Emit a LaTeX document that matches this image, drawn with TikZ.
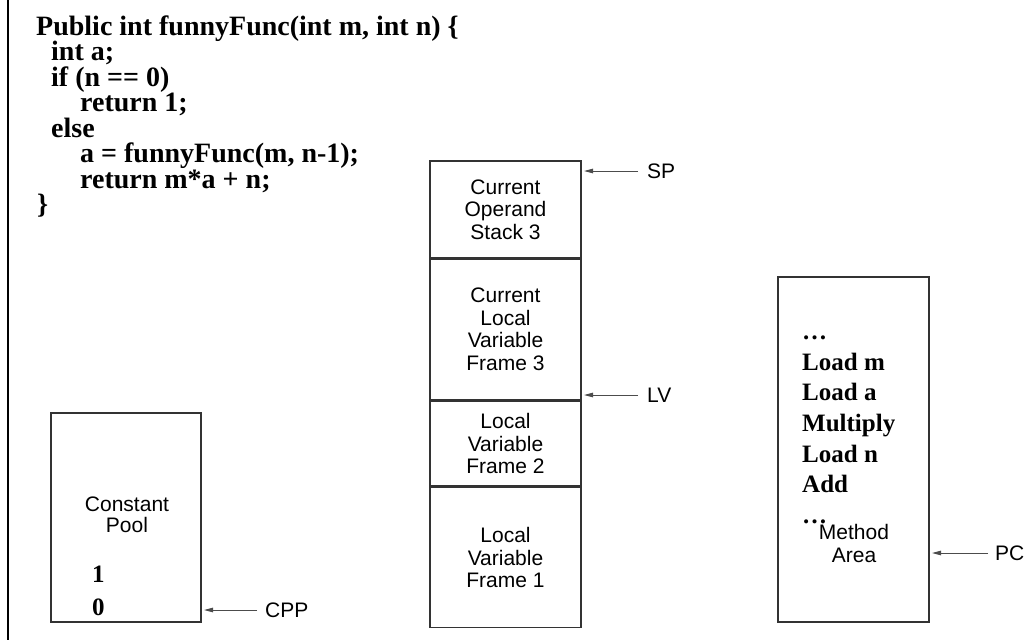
\documentclass[tikz,border=0pt]{standalone}
\usepackage{fontspec}
\setmainfont{Liberation Serif}
\setsansfont{Liberation Sans}
\usetikzlibrary{arrows.meta}
\begin{document}
\begin{tikzpicture}[x=1pt,y=-1pt,
  code/.style={anchor=base west,inner sep=0pt,font=\fontsize{28}{25.5}\selectfont\bfseries},
  instr/.style={anchor=base west,inner sep=0pt,font=\fontsize{25}{30}\selectfont\bfseries},
  memblock/.style={draw=black!80,line width=1.5pt,inner sep=0pt,align=center,
     font=\fontsize{21}{22.5}\selectfont\sffamily,minimum width=151pt},
  lbl/.style={anchor=west,inner sep=0pt,font=\fontsize{21}{22.5}\selectfont\sffamily},
  ptr/.style={draw=black!70,line width=1pt,-{Triangle[length=9pt,width=4.5pt]}}]
\useasboundingbox (0,0) rectangle (1026,640);
\draw[line width=1.5pt] (8,0) -- (8,640);
% code
\node[code] (c1) at (36,35) {Public int funnyFunc(int m, int n) \{};
\node[code] (c2) at (51,60.5) {int a;};
\node[code] (c3) at (51,86) {if (n == 0)};
\node[code] (c4) at (80,111.5) {return 1;};
\node[code] (c5) at (51,137) {else};
\node[code] (c6) at (80,162.5) {a = funnyFunc(m, n-1);};
\node[code] (c7) at (80,188) {return m*a + n;};
\node[code] (c8) at (37,213.5) {\}};
% constant pool
\node[memblock,minimum width=150pt,minimum height=209pt] (cp) at (126,517.5) {};
\node[align=center,inner sep=0pt,font=\fontsize{21}{21.5}\selectfont\sffamily] (cpt) at (127,515) {Constant\\Pool};
\node[instr] (k1) at (92,582) {1};
\node[instr] (k0) at (92,615) {0};
% stack
\node[memblock,minimum height=97pt] (os3) at (505.5,209.5) {Current\\Operand\\Stack 3};
\node[memblock,minimum height=140pt,anchor=north] (lv3) at (os3.south) {Current\\Local\\Variable\\Frame 3};
\node[memblock,minimum height=85pt,anchor=north] (lv2) at (lv3.south) {Local\\Variable\\Frame 2};
\node[memblock,minimum height=140pt,anchor=north] (lv1) at (lv2.south) {Local\\Variable\\Frame 1};
% method area
\node[memblock,minimum height=345pt] (ma) at (853.5,449.5) {};
\node[instr] (m0) at (802,339.6) {\dots};
\node[instr] (m1) at (802,370.2) {Load m};
\node[instr] (m2) at (802,400.8) {Load a};
\node[instr] (m3) at (802,431.4) {Multiply};
\node[instr] (m4) at (802,462) {Load n};
\node[instr] (m5) at (802,492.6) {Add};
\node[instr] (m6) at (802,523.2) {\dots};
\node[align=center,inner sep=0pt,font=\fontsize{21}{23}\selectfont\sffamily] (mat) at (854,543) {Method\\Area};
% pointers
\node[lbl] (sp) at (647,171) {SP};
\node[lbl] (lv) at (647,395) {LV};
\node[lbl] (pc) at (995,553) {PC};
\node[lbl] (cpp) at (265,610) {CPP};
\coordinate (spT) at (584,171);
\coordinate (lvT) at (584,395);
\coordinate (pcT) at (932,553);
\coordinate (cppT) at (204,610);
\draw[ptr] ([xshift=-9pt]sp.west) -- (spT);
\draw[ptr] ([xshift=-9pt]lv.west) -- (lvT);
\draw[ptr] ([xshift=-7pt]pc.west) -- (pcT);
\draw[ptr] ([xshift=-8pt]cpp.west) -- (cppT);
\end{tikzpicture}
\end{document}
